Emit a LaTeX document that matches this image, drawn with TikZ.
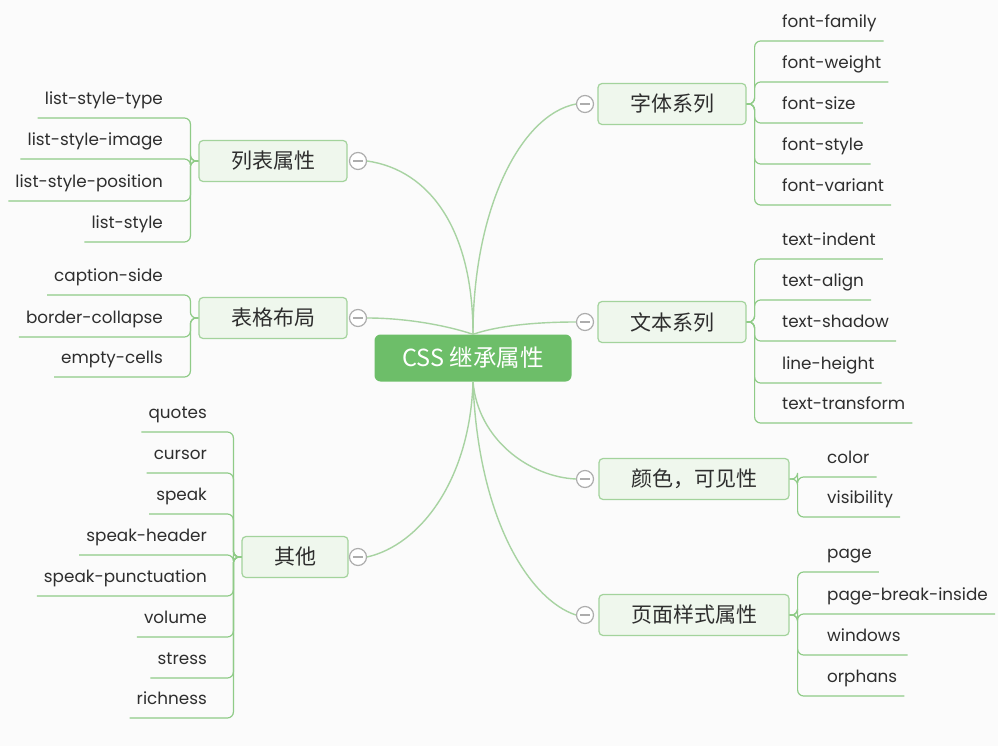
\documentclass[tikz,border=0pt]{standalone}
\usepackage{fontspec}
\setmainfont{Poppins}
\newfontfamily\cjk{Noto Sans CJK SC}
\usetikzlibrary{positioning}

\definecolor{rootgreen}{HTML}{6DBE69}
\definecolor{boxfill}{HTML}{EFF7ED}
\definecolor{boxline}{HTML}{A3D39C}
\definecolor{branchline}{HTML}{A8D3A2}
\definecolor{twigline}{HTML}{8FCB87}
\definecolor{knobgray}{HTML}{ADADAD}
\definecolor{inkgray}{HTML}{2E2E2E}
\definecolor{paper}{HTML}{FBFBFB}

\tikzset{
  root/.style={fill=rootgreen, rounded corners=6pt, text=white,
    font=\cjk\fontsize{23.5}{23.5}\selectfont, minimum width=197pt, minimum height=47pt, inner sep=0pt},
  topic/.style={fill=boxfill, draw=boxline, line width=1.2pt, rounded corners=4pt,
    font=\cjk\fontsize{21}{21}\selectfont, text=inkgray, inner xsep=32pt, minimum height=41pt},
  knob/.style={circle, draw=knobgray, fill=white, line width=1.2pt, minimum size=17pt, inner sep=0pt,
    path picture={\draw[knobgray, line width=1.2pt]
      ([xshift=-5pt]path picture bounding box.center) -- ([xshift=5pt]path picture bounding box.center);}},
  leaf/.style={inner xsep=7pt, inner ysep=0pt, text height=18pt, text depth=13pt,
    font=\fontsize{16.8}{16.8}\selectfont, text=inkgray},
  leafR/.style={leaf, anchor=south west},
  leafL/.style={leaf, anchor=south east},
  branch/.style={draw=branchline, line width=1.4pt},
  twig/.style={draw=twigline, line width=1.2pt, rounded corners=6pt},
}

\begin{document}
\begin{tikzpicture}[x=1pt, y=-1pt]
  \fill[paper] (0,0) rectangle (998,746);
  \useasboundingbox (0,0) rectangle (998,746);

  \node[root] (css) at (473,358) {CSS 继承属性};

  \node[topic] (fz) at (672,104) {字体系列};
  \node[topic] (wb) at (672,322) {文本系列};
  \node[topic] (ys) at (694,479) {颜色，可见性};
  \node[topic] (ym) at (694,615) {页面样式属性};
  \node[topic] (lb) at (273,161) {列表属性};
  \node[topic] (bg) at (273,318) {表格布局};
  \node[topic] (qt) at (295,557) {其他};

  \node[knob] (kfz) at (585,104) {};
  \node[knob] (kwb) at (585,322) {};
  \node[knob] (kys) at (585,479) {};
  \node[knob] (kym) at (585,615) {};
  \node[knob] (klb) at (358,161) {};
  \node[knob] (kbg) at (358,318) {};
  \node[knob] (kqt) at (358,557) {};

  \draw[branch] (css.north) .. controls (473,210) and (520,115) .. (kfz.west);
  \draw[branch] (css.north) .. controls (500,325) and (540,322) .. (kwb.west);
  \draw[branch] (css.north) .. controls (473,230) and (430,170) .. (klb.east);
  \draw[branch] (css.north) .. controls (445,325) and (405,318) .. (kbg.east);
  \draw[branch] (css.south) .. controls (478,440) and (530,477) .. (kys.west);
  \draw[branch] (css.south) .. controls (478,520) and (530,600) .. (kym.west);
  \draw[branch] (css.south) .. controls (470,480) and (420,545) .. (kqt.east);

  \foreach \n/\y/\t in {ffam/41/font-family, fwgt/82/font-weight, fsiz/123/font-size,
                        fsty/164/font-style, fvar/205/font-variant} {
    \node[leafR] (\n) at (775,\y) {\t};
    \draw[twig] (fz.east) -- ++(8,0) |- (\n.south west) -- (\n.south east);
  }
  \foreach \n/\y/\t in {tind/259/text-indent, talg/300/text-align, tsha/341/text-shadow,
                        lhgt/383/line-height, ttra/423/text-transform} {
    \node[leafR] (\n) at (775,\y) {\t};
    \draw[twig] (wb.east) -- ++(8,0) |- (\n.south west) -- (\n.south east);
  }
  \foreach \n/\y/\t in {col/477/color, vis/517/visibility} {
    \node[leafR] (\n) at (820,\y) {\t};
    \draw[twig] (ys.east) -- ++(8,0) |- (\n.south west) -- (\n.south east);
  }
  \foreach \n/\y/\t in {pg/572/page, pbi/614/page-break-inside, win/655/windows, orp/696/orphans} {
    \node[leafR] (\n) at (820,\y) {\t};
    \draw[twig] (ym.east) -- ++(8,0) |- (\n.south west) -- (\n.south east);
  }
  \foreach \n/\y/\t in {lst/118/list-style-type, lsi/159/list-style-image,
                        lsp/201/list-style-position, ls/242/list-style} {
    \node[leafL] (\n) at (170,\y) {\t};
    \draw[twig] (lb.west) -- ++(-8,0) |- (\n.south east) -- (\n.south west);
  }
  \foreach \n/\y/\t in {caps/295/caption-side, bcol/337/border-collapse, ecel/377/empty-cells} {
    \node[leafL] (\n) at (170,\y) {\t};
    \draw[twig] (bg.west) -- ++(-8,0) |- (\n.south east) -- (\n.south west);
  }
  \foreach \n/\y/\t in {quo/432/quotes, cur/473/cursor, spk/514/speak, spkh/555/speak-header,
                        spkp/596/speak-punctuation, vol/637/volume, str/678/stress, rich/718/richness} {
    \node[leafL] (\n) at (214,\y) {\t};
    \draw[twig] (qt.west) -- ++(-8,0) |- (\n.south east) -- (\n.south west);
  }
\end{tikzpicture}
\end{document}
